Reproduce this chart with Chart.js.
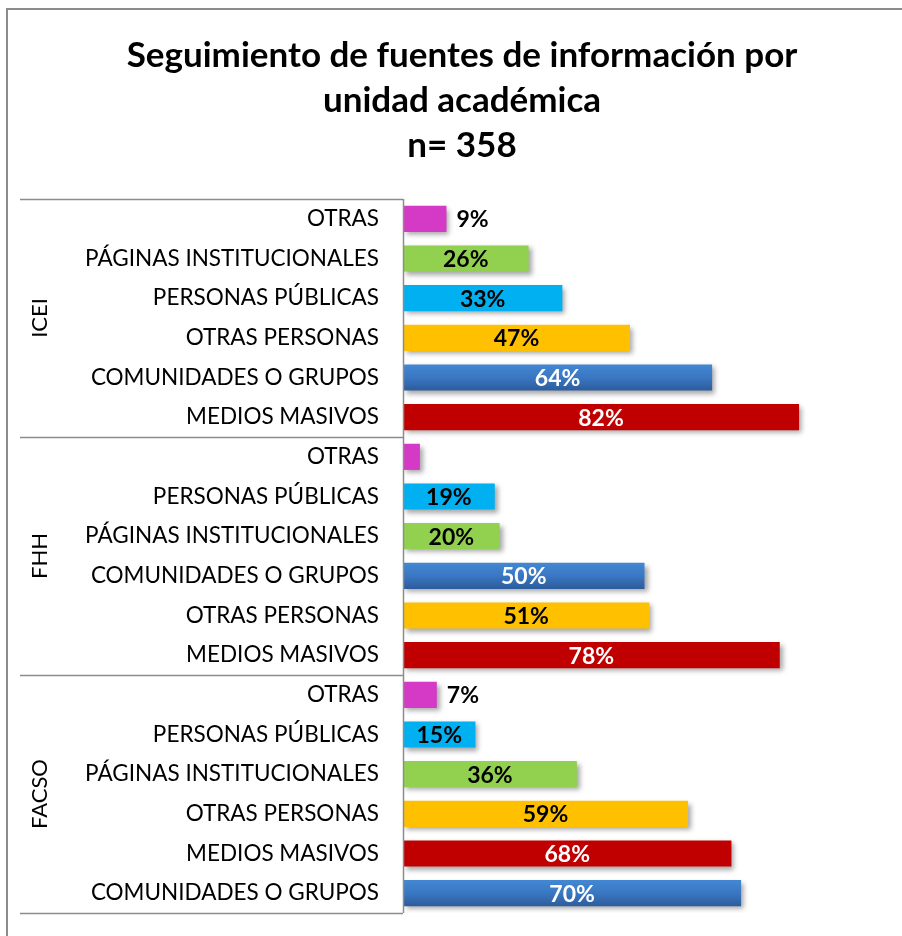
<!DOCTYPE html>
<html lang="es">
<head>
<meta charset="utf-8">
<title>Seguimiento de fuentes de información por unidad académica</title>
<script src="https://cdn.jsdelivr.net/npm/chart.js@4.4.1/dist/chart.umd.min.js"></script>
<style>
  html, body { margin: 0; padding: 0; background: #fff; }
  canvas { display: block; }
</style>
</head>
<body>
<canvas id="grafica" width="902" height="936"></canvas>
<script>
// datos por unidad académica (de arriba hacia abajo)
const unidades = ["ICEI", "FHH", "FACSO"];

const fuentesICEI = ["OTRAS", "PÁGINAS INSTITUCIONALES", "PERSONAS PÚBLICAS", "OTRAS PERSONAS", "COMUNIDADES O GRUPOS", "MEDIOS MASIVOS"];
const valoresICEI = [9, 26, 33, 47, 64, 82];

const fuentesFHH = ["OTRAS", "PERSONAS PÚBLICAS", "PÁGINAS INSTITUCIONALES", "COMUNIDADES O GRUPOS", "OTRAS PERSONAS", "MEDIOS MASIVOS"];
const valoresFHH = [3.5, 19, 20, 50, 51, 78];

const fuentesFACSO = ["OTRAS", "PERSONAS PÚBLICAS", "PÁGINAS INSTITUCIONALES", "OTRAS PERSONAS", "MEDIOS MASIVOS", "COMUNIDADES O GRUPOS"];
const valoresFACSO = [7, 15, 36, 59, 68, 70];

const tituloLineas = ["Seguimiento de fuentes de información por", "unidad académica", "n= 358"];

const colores = {
  "OTRAS": "#D43AC5",
  "PÁGINAS INSTITUCIONALES": "#92D050",
  "PERSONAS PÚBLICAS": "#00B0F0",
  "OTRAS PERSONAS": "#FFC000",
  "COMUNIDADES O GRUPOS": "#3C7AC6",
  "MEDIOS MASIVOS": "#C00000"
};
const textoBlanco = ["COMUNIDADES O GRUPOS", "MEDIOS MASIVOS"];

const grupos = [fuentesICEI, fuentesFHH, fuentesFACSO];
const etiquetas = [...fuentesICEI, ...fuentesFHH, ...fuentesFACSO];
const valores = [...valoresICEI, ...valoresFHH, ...valoresFACSO];

const FUENTE = "Lato, 'Open Sans', sans-serif";
const GRIS = "#8c8c8c";

// marco exterior del gráfico (recortado a la derecha y abajo)
const marco = {
  id: "marco",
  beforeDraw(chart) {
    const ctx = chart.ctx;
    ctx.save();
    ctx.strokeStyle = GRIS;
    ctx.lineWidth = 2;
    ctx.beginPath();
    ctx.moveTo(7, chart.height);
    ctx.lineTo(7, 9);
    ctx.lineTo(chart.width, 9);
    ctx.stroke();
    ctx.restore();
  }
};

// título en tres líneas, centrado un poco a la derecha como en el original
const titulo = {
  id: "titulo",
  afterDraw(chart) {
    const ctx = chart.ctx;
    ctx.save();
    ctx.fillStyle = "#000";
    ctx.font = "bold 35px " + FUENTE;
    ctx.textAlign = "center";
    ctx.textBaseline = "middle";
    tituloLineas.forEach((linea, i) => {
      ctx.fillText(linea, 462, 56 + i * 45);
    });
    ctx.restore();
  }
};

// sombra de las barras
const sombra = {
  id: "sombra",
  beforeDatasetsDraw(chart) {
    const ctx = chart.ctx;
    ctx.save();
    ctx.shadowColor = "rgba(0,0,0,0.35)";
    ctx.shadowBlur = 5;
    ctx.shadowOffsetX = 3;
    ctx.shadowOffsetY = 3;
  },
  afterDatasetsDraw(chart) {
    chart.ctx.restore();
  }
};

// líneas separadoras y nombres de unidad
const separadores = {
  id: "separadores",
  afterDraw(chart) {
    const ctx = chart.ctx;
    const y = chart.scales.y;
    const izq = chart.chartArea.left - y.width;
    const der = chart.chartArea.left;
    const paso = y.getPixelForValue(1) - y.getPixelForValue(0);
    ctx.save();
    ctx.strokeStyle = GRIS;
    ctx.lineWidth = 1.5;
    let inicio = 0;
    const bordes = [y.getPixelForValue(0) - paso / 2];
    grupos.forEach((g, i) => {
      const fin = inicio + g.length - 1;
      const yFin = y.getPixelForValue(fin) + paso / 2;
      bordes.push(yFin);
      const centro = (y.getPixelForValue(inicio) + y.getPixelForValue(fin)) / 2;
      ctx.save();
      ctx.translate(izq + 20, centro);
      ctx.rotate(-Math.PI / 2);
      ctx.fillStyle = "#000";
      ctx.font = "22px " + FUENTE;
      ctx.textAlign = "center";
      ctx.textBaseline = "middle";
      ctx.fillText(unidades[i], 0, 0);
      ctx.restore();
      inicio = fin + 1;
    });
    bordes.forEach(b => {
      ctx.beginPath();
      ctx.moveTo(izq, Math.round(b) + 0.5);
      ctx.lineTo(der, Math.round(b) + 0.5);
      ctx.stroke();
    });
    ctx.beginPath();
    ctx.moveTo(der + 0.5, bordes[0]);
    ctx.lineTo(der + 0.5, bordes[bordes.length - 1]);
    ctx.stroke();
    ctx.restore();
  }
};

// porcentajes sobre las barras
const etiquetasValor = {
  id: "etiquetasValor",
  afterDatasetsDraw(chart) {
    const ctx = chart.ctx;
    const meta = chart.getDatasetMeta(0);
    ctx.save();
    ctx.font = "bold 23px " + FUENTE;
    ctx.textBaseline = "middle";
    meta.data.forEach((barra, i) => {
      const v = valores[i];
      if (v < 5) return;
      const texto = Math.round(v) + "%";
      if (v < 10) {
        ctx.fillStyle = "#000";
        ctx.textAlign = "left";
        ctx.fillText(texto, barra.x + 10, barra.y + 1);
      } else {
        ctx.fillStyle = textoBlanco.includes(etiquetas[i]) ? "#fff" : "#000";
        ctx.textAlign = "center";
        ctx.fillText(texto, (barra.x + barra.base) / 2, barra.y + 1);
      }
    });
    ctx.restore();
  }
};

function colorBarra(context) {
  const nombre = etiquetas[context.dataIndex];
  if (nombre !== "COMUNIDADES O GRUPOS") return colores[nombre];
  const escala = context.chart.scales.y;
  if (!escala || escala.height === undefined) return colores[nombre];
  const y = escala.getPixelForValue(context.dataIndex);
  const g = context.chart.ctx.createLinearGradient(0, y - 13, 0, y + 13);
  g.addColorStop(0, "#4387D3");
  g.addColorStop(0.5, "#3A77C2");
  g.addColorStop(1, "#2C5C9C");
  return g;
}

const ctx = document.getElementById("grafica").getContext("2d");
const chart = new Chart(ctx, {
  type: "bar",
  data: {
    labels: etiquetas,
    datasets: [{
      data: valores,
      backgroundColor: colorBarra,
      borderWidth: 0,
      barPercentage: 0.66,
      categoryPercentage: 1
    }]
  },
  options: {
    indexAxis: "y",
    responsive: false,
    animation: false,
    layout: { autoPadding: false, padding: { left: 20, right: 16, top: 199, bottom: 23 } },
    plugins: {
      legend: { display: false },
      tooltip: { enabled: false },
      title: { display: false }
    },
    scales: {
      x: {
        display: false,
        min: 0,
        max: 100
      },
      y: {
        afterFit(scale) {
          scale.width = 383;
          scale.paddingTop = 0;
          scale.paddingBottom = 0;
        },
        border: { display: false },
        grid: { display: false, drawTicks: false },
        ticks: {
          color: "#000",
          padding: 24,
          font: { family: FUENTE, size: 22.5 }
        }
      }
    }
  },
  plugins: [marco, titulo, sombra, separadores, etiquetasValor]
});
</script>
</body>
</html>
